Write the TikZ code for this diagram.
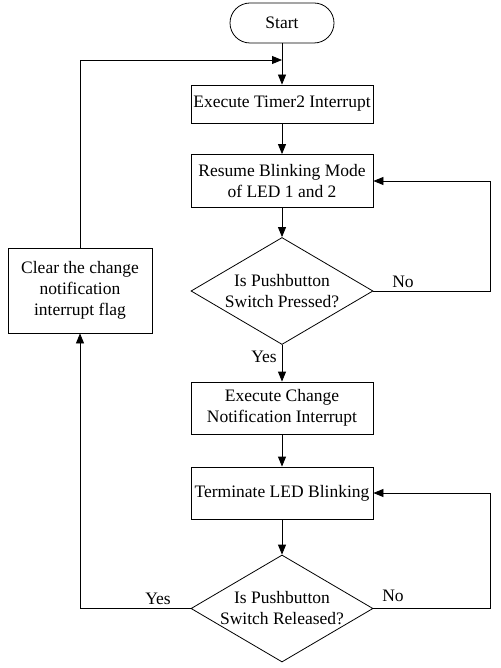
\documentclass[tikz,border=0pt]{standalone}
\usepackage{fontspec}
\setmainfont{Liberation Serif}
\usetikzlibrary{shapes.geometric,arrows.meta}
\begin{document}
\begin{tikzpicture}[x=1pt,y=-1pt,
  every node/.style={font=\fontsize{17.5}{21}\selectfont},
  procbox/.style={draw, line width=0.8pt, rectangle, align=center, inner sep=1pt},
  decision/.style={draw, line width=0.8pt, diamond, inner sep=0pt, minimum width=182pt, minimum height=107pt},
  dtext/.style={align=center, inner sep=0pt},
  conn/.style={line width=0.8pt, -{Triangle[length=10pt,width=8pt]}},
  lbl/.style={inner sep=0pt}]
\useasboundingbox (0,0) rectangle (500,668);
\node[procbox, rounded corners=20pt, minimum width=104pt, minimum height=40pt] (start) at (282,23) {Start};
\node[procbox, minimum width=182pt, minimum height=38pt] (b1) at (282,104) {Execute Timer2 Interrupt};
\node[procbox, minimum width=182pt, minimum height=53pt] (b2) at (282,181) {Resume Blinking Mode\\of LED 1 and 2};
\node[decision] (d1) at (282,291) {};
\node[dtext] (d1t) at (d1.center) {Is Pushbutton\\Switch Pressed?};
\node[procbox, minimum width=144pt, minimum height=85pt] (clr) at (80,290.5) {Clear the change\\notification\\interrupt flag};
\node[procbox, minimum width=182pt, minimum height=52pt] (b3) at (282,408) {Execute Change\\Notification Interrupt};
\node[procbox, minimum width=182pt, minimum height=52pt] (b4) at (282,493) {Terminate LED Blinking};
\node[decision] (d2) at (282,608.5) {};
\node[dtext] (d2t) at (d2.center) {Is Pushbutton\\Switch Released?};
\coordinate (j) at (282,60);
\coordinate (r1) at (490,291);
\coordinate (r2) at (490,608.5);
\coordinate (l2) at (80,608.5);
\coordinate (lt) at (80,60);
\draw[conn] (start.south) -- (b1.north);
\draw[conn] (b1.south) -- (b2.north);
\draw[conn] (b2.south) -- (d1.north);
\draw[conn] (d1.south) -- (b3.north);
\draw[conn] (b3.south) -- (b4.north);
\draw[conn] (b4.south) -- (d2.north);
\draw[conn] (d1.east) -- (r1) |- (b2.east);
\draw[conn] (d2.east) -- (r2) |- (b4.east);
\draw[conn] (d2.west) -- (l2) -- (clr.south);
\draw[conn] (clr.north) -- (lt) -- (j);
\node[lbl] (no1) at (403,282) {No};
\node[lbl] (yes1) at (264,357) {Yes};
\node[lbl] (no2) at (393,596) {No};
\node[lbl] (yes2) at (158,599) {Yes};
\end{tikzpicture}
\end{document}
